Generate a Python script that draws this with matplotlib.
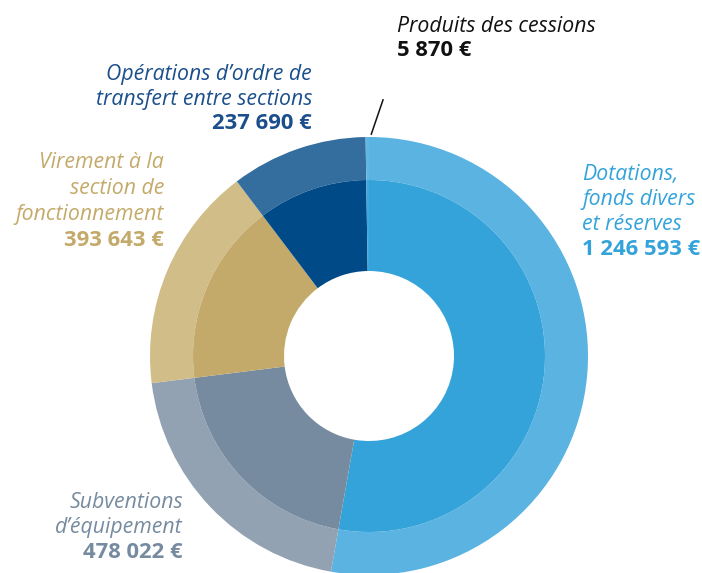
import matplotlib
matplotlib.use("Agg")
from matplotlib import pyplot as plt

# data
labels = [["Dotations,", "fonds divers", "et réserves"],
          ["Subventions", "d’équipement"],
          ["Virement à la", "section de", "fonctionnement"],
          ["Opérations d’ordre de", "transfert entre sections"],
          ["Produits des cessions"]]
amounts = [1246593, 478022, 393643, 237690, 5870]
amount_labels = ["1 246 593 €", "478 022 €", "393 643 €", "237 690 €", "5 870 €"]

outer_colors = ["#5BB3E1", "#93A2B3", "#D1BD88", "#336E9F", "#62B6E2"]
inner_colors = ["#34A3DA", "#768B9F", "#C4AA6A", "#004A87", "#3CA7DC"]
text_colors = ["#34A3DA", "#768B9F", "#C4AA6A", "#1B4F8C", "#111111"]

W, H = 702, 573
fig = plt.figure(figsize=(W / 100, H / 100), dpi=100)

# donut axes: centre (369, 356) px, outer radius 219 px
cx, cy, R = 369, 356, 219
ax = fig.add_axes([(cx - R) / W, (H - cy - R) / H, 2 * R / W, 2 * R / H])

r_mid = 176 / R
r_hole = 85 / R
ax.pie(amounts, radius=1.0, colors=outer_colors, startangle=90, counterclock=False,
       wedgeprops=dict(width=1.0 - r_mid, linewidth=0))
ax.pie(amounts, radius=r_mid, colors=inner_colors, startangle=90, counterclock=False,
       wedgeprops=dict(width=r_mid - r_hole, linewidth=0))
ax.set_xlim(-1, 1)
ax.set_ylim(-1, 1)
ax.set_aspect("equal")
ax.axis("off")

family = ["Open Sans", "DejaVu Sans"]
fs = 15.3


def label(i, x, y, ha, step=24.8):
    # name lines in italic, amount in bold underneath; y = centre of first line
    for k, line in enumerate(labels[i]):
        fig.text(x / W, 1 - (y + k * step) / H, line, ha=ha, va="center_baseline",
                 fontsize=fs, family=family, style="italic", color=text_colors[i])
    yb = y + len(labels[i]) * step
    fig.text(x / W, 1 - yb / H, amount_labels[i], ha=ha, va="center_baseline",
             fontsize=fs + 0.5, family=family, weight="bold", color=text_colors[i])


label(4, 397, 24, "left", 24)
label(3, 312, 72, "right", 24.5)
label(2, 164, 160, "right", 26)
label(0, 582, 172, "left", 25)
label(1, 183, 500, "right", 25)

# leader line for the tiny slice
ax.annotate("", xy=(0.006, 1.0), xycoords="data",
            xytext=(384, H - 97), textcoords="figure pixels",
            arrowprops=dict(arrowstyle="-", color="#111111", lw=1.1))

fig.savefig("out.png", dpi=100)
